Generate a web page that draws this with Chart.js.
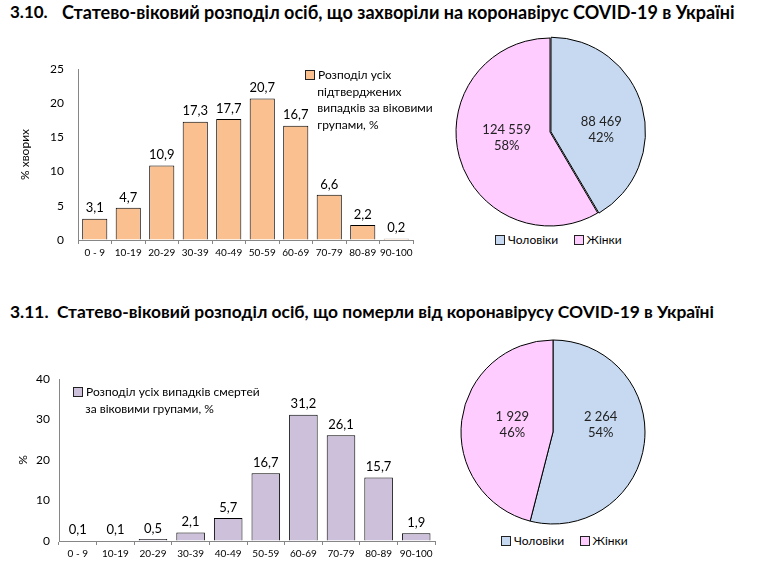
<!DOCTYPE html>
<html>
<head>
<meta charset="utf-8">
<script src="https://cdn.jsdelivr.net/npm/chart.js@4"></script>
<style>
  body { margin: 0; background: #fff; width: 761px; height: 582px; position: relative; overflow: hidden; font-family: Lato, sans-serif; color: #000; }
  .title { position: absolute; font-weight: bold; white-space: nowrap; }
  .box { position: absolute; }
  .legend { position: absolute; font-size: 12px; line-height: 16.5px; }
  .sq { display: inline-block; width: 8px; height: 8px; border: 1px solid #222; margin-right: 3px; vertical-align: -1px; }
</style>
</head>
<body>
<div class="title" style="left:10px; top:1px; font-size:17px;">3.10.</div>
<div class="title" style="left:62px; top:1px; font-size:18px;">Статево-віковий розподіл осіб, що захворіли на коронавірус COVID-19 в Україні</div>
<div class="title" style="left:10px; top:301px; font-size:17.4px;">3.11.&nbsp; Статево-віковий розподіл осіб, що померли від коронавірусу COVID-19 в Україні</div>

<div class="box" style="left:0; top:55px; width:420px; height:215px;"><canvas id="casesAge"></canvas></div>
<div class="legend" style="left:305px; top:67px;"><span class="sq" style="background:#FAC090"></span>Розподіл усіх<br>&nbsp;&nbsp;&nbsp;&nbsp;підтверджених<br>&nbsp;&nbsp;&nbsp;&nbsp;випадків за віковими<br>&nbsp;&nbsp;&nbsp;&nbsp;групами, %</div>

<div class="box" style="left:450px; top:32px; width:200px; height:200px;"><canvas id="casesSex"></canvas></div>
<div class="legend" style="left:495px; top:232px;"><span class="sq" style="background:#C6D9F1"></span>Чоловіки&nbsp;&nbsp;&nbsp;&nbsp;&nbsp;<span class="sq" style="background:#FFCCFF"></span>Жінки</div>

<div class="box" style="left:0; top:365px; width:440px; height:200px;"><canvas id="deathsAge"></canvas></div>
<div class="legend" style="left:73px; top:384px;"><span class="sq" style="background:#CCC0DA"></span>Розподіл усіх випадків смертей<br>&nbsp;&nbsp;&nbsp;&nbsp;за віковими групами, %</div>

<div class="box" style="left:453px; top:332px; width:200px; height:200px;"><canvas id="deathsSex"></canvas></div>
<div class="legend" style="left:501px; top:533px;"><span class="sq" style="background:#C6D9F1"></span>Чоловіки&nbsp;&nbsp;&nbsp;&nbsp;&nbsp;<span class="sq" style="background:#FFCCFF"></span>Жінки</div>

<script>
const ageGroups = ['0 - 9', '10-19', '20-29', '30-39', '40-49', '50-59', '60-69', '70-79', '80-89', '90-100'];
const casesPct = [3.1, 4.7, 10.9, 17.3, 17.7, 20.7, 16.7, 6.6, 2.2, 0.2];
const deathsPct = [0.1, 0.1, 0.5, 2.1, 5.7, 16.7, 31.2, 26.1, 15.7, 1.9];
const sexLabels = ['Чоловіки', 'Жінки'];
const casesBySex = [88469, 124559];
const deathsBySex = [2264, 1929];

const FONT = 'Lato, sans-serif';

// thousands with a space, decimals with a comma
function fmtInt(n) { return String(n).replace(/\B(?=(\d{3})+(?!\d))/g, ' '); }
function fmtDec(v) { return v.toFixed(1).replace('.', ','); }

const valueLabels = {
  id: 'valueLabels',
  afterDatasetsDraw(chart, args, opts) {
    const ctx = chart.ctx;
    const meta = chart.getDatasetMeta(0);
    const data = chart.data.datasets[0].data;
    ctx.save();
    ctx.fillStyle = '#000';
    ctx.textAlign = 'center';
    if (chart.config.type === 'bar') {
      ctx.font = '13px ' + FONT;
      ctx.textBaseline = 'bottom';
      meta.data.forEach((bar, i) => {
        ctx.fillText(fmtDec(data[i]), bar.x, bar.y - 4);
      });
    } else {
      const total = data.reduce((a, b) => a + b, 0);
      const shift = opts.shift || [];
      ctx.font = '13px ' + FONT;
      ctx.textBaseline = 'middle';
      ctx.fillStyle = '#222';
      meta.data.forEach((arc, i) => {
        const p = arc.tooltipPosition();
        const s = shift[i] || [0, 0];
        const x = p.x + s[0], y = p.y + s[1];
        ctx.fillText(fmtInt(data[i]), x, y - 8);
        ctx.fillText(Math.round(data[i] / total * 100) + '%', x, y + 8);
      });
    }
    ctx.restore();
  }
};

function barChart(id, values, color, yMax, yStep, yTitle, yWidth, xHeight, pad, barPct, titlePad, tickGap) {
  return new Chart(document.getElementById(id), {
    type: 'bar',
    data: {
      labels: ageGroups,
      datasets: [{
        data: values,
        backgroundColor: color,
        borderColor: '#000',
        borderWidth: 1,
        barPercentage: barPct,
        categoryPercentage: 1
      }]
    },
    options: {
      responsive: true,
      maintainAspectRatio: false,
      animation: false,
      layout: { padding: pad },
      plugins: { legend: { display: false }, tooltip: { enabled: false } },
      scales: {
        x: {
          grid: { drawOnChartArea: false, tickLength: 4, color: '#868686' },
          border: { color: '#868686' },
          ticks: { color: '#000', font: { family: FONT, size: 10 }, padding: 3, maxRotation: 0, autoSkip: false },
          afterFit: s => { s.height = xHeight; }
        },
        y: {
          min: 0, max: yMax,
          // invisible tick marks just to push the labels away from the axis
          grid: { drawOnChartArea: false, tickLength: tickGap, tickColor: 'rgba(0,0,0,0)' },
          border: { color: '#868686' },
          ticks: { stepSize: yStep, color: '#000', font: { family: FONT, size: 12 }, padding: 4 },
          title: { display: true, text: yTitle, color: '#000', font: { family: FONT, size: 12 }, padding: { top: titlePad, bottom: 0 } },
          afterFit: s => { s.width = yWidth; }
        }
      }
    },
    plugins: [valueLabels]
  });
}

function pieChart(id, values, offsets, radius, shift) {
  return new Chart(document.getElementById(id), {
    type: 'pie',
    data: {
      labels: sexLabels,
      datasets: [{
        data: values,
        backgroundColor: ['#C6D9F1', '#FFCCFF'],
        borderColor: '#000',
        borderWidth: 1,
        offset: offsets
      }]
    },
    options: {
      responsive: true,
      maintainAspectRatio: false,
      animation: false,
      radius: radius,
      plugins: { legend: { display: false }, tooltip: { enabled: false }, valueLabels: { shift: shift } }
    },
    plugins: [valueLabels]
  });
}

barChart('casesAge', casesPct, '#FAC090', 25, 5, '% хворих', 78, 30, { top: 14, right: 7, left: 0, bottom: 0 }, 0.75, 18, 10);
pieChart('casesSex', casesBySex, [4, 0], 94, [[4, 11], [2, -7]]);
barChart('deathsAge', deathsPct, '#CCC0DA', 40, 10, '%', 59, 24, { top: 14, right: 5, left: 0, bottom: 0 }, 0.76, 16, 5);
pieChart('deathsSex', deathsBySex, [0, 0], 92, [[2, -13], [5, -1]]);
</script>
</body>
</html>
